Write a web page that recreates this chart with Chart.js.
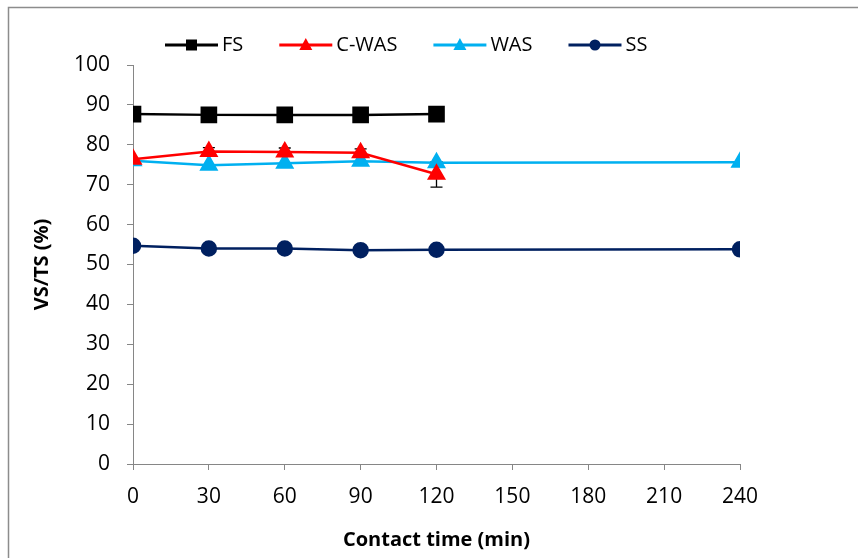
<!DOCTYPE html>
<html>
<head>
<meta charset="utf-8">
<script src="https://cdn.jsdelivr.net/npm/chart.js@4.4.0/dist/chart.umd.min.js"></script>
<style>
  html, body { margin: 0; padding: 0; background: #fff; }
  #wrap { width: 858px; height: 558px; position: relative; }
</style>
</head>
<body>
<div id="wrap"><canvas id="myChart"></canvas></div>
<script>
// Contact time (min) for each series
const timeShort = [0, 30, 60, 90, 120];
const timeLong = [0, 30, 60, 90, 120, 240];

// VS/TS (%)
const fsValues = [87.7, 87.5, 87.5, 87.5, 87.7];
const cwasValues = [76.4, 78.3, 78.2, 78.0, 72.6];
const cwasErrors = [0, 1.0, 1.0, 1.0, 3.2];
const wasValues = [76.0, 74.9, 75.4, 75.9, 75.5, 75.6];
const ssValues = [54.7, 54.0, 54.0, 53.6, 53.7, 53.8];

// Tick labels
const xTicks = [0, 30, 60, 90, 120, 150, 180, 210, 240];
const yTicks = [0, 10, 20, 30, 40, 50, 60, 70, 80, 90, 100];

const FONT = "'Open Sans', sans-serif";
const AXIS_GREY = '#868686';

function toPoints(xs, ys) {
  return ys.map((v, i) => ({ x: xs[i], y: v }));
}

// Draw a small marker for the legend
function drawMarker(ctx, style, x, y, color) {
  ctx.fillStyle = color;
  ctx.beginPath();
  if (style === 'rect') {
    ctx.rect(x - 5.5, y - 5.5, 11, 11);
  } else if (style === 'triangle') {
    ctx.moveTo(x, y - 7);
    ctx.lineTo(x + 6.5, y + 5);
    ctx.lineTo(x - 6.5, y + 5);
    ctx.closePath();
  } else {
    ctx.arc(x, y, 5.5, 0, Math.PI * 2);
  }
  ctx.fill();
}

// White background and the thin frame around the chart
const frame = {
  id: 'frame',
  beforeDraw(chart) {
    const ctx = chart.ctx;
    ctx.save();
    ctx.fillStyle = '#fff';
    ctx.fillRect(0, 0, chart.width, chart.height);
    ctx.strokeStyle = '#8c8c8c';
    ctx.lineWidth = 1.5;
    ctx.strokeRect(8.5, 7.5, chart.width + 20, chart.height + 20);
    ctx.restore();
  }
};

// Error bars on C-WAS, drawn under the markers
const errorBars = {
  id: 'errorBars',
  beforeDatasetsDraw(chart) {
    const ctx = chart.ctx;
    const xs = chart.scales.x;
    const ys = chart.scales.y;
    ctx.save();
    ctx.strokeStyle = '#000';
    ctx.lineWidth = 1.3;
    cwasValues.forEach((v, i) => {
      if (!cwasErrors[i]) return;
      const px = xs.getPixelForValue(timeShort[i]);
      const top = ys.getPixelForValue(v + cwasErrors[i]);
      const bot = ys.getPixelForValue(v - cwasErrors[i]);
      ctx.beginPath();
      ctx.moveTo(px, top); ctx.lineTo(px, bot);
      ctx.moveTo(px - 6, top); ctx.lineTo(px + 6, top);
      ctx.moveTo(px - 6, bot); ctx.lineTo(px + 6, bot);
      ctx.stroke();
    });
    ctx.restore();
  }
};

// Legend with line + marker, like the spreadsheet one
const lineLegend = {
  id: 'lineLegend',
  afterDraw(chart) {
    const ctx = chart.ctx;
    let x = 165;
    const y = 45;
    ctx.save();
    ctx.font = '20px ' + FONT;
    ctx.textBaseline = 'middle';
    chart.data.datasets.forEach(ds => {
      ctx.strokeStyle = ds.borderColor;
      ctx.lineWidth = 3;
      ctx.beginPath();
      ctx.moveTo(x, y);
      ctx.lineTo(x + 53, y);
      ctx.stroke();
      drawMarker(ctx, ds.pointStyle, x + 26.5, y, ds.borderColor);
      ctx.fillStyle = '#000';
      ctx.fillText(ds.label, x + 57, y);
      x = x + 57 + ctx.measureText(ds.label).width + 36;
    });
    ctx.restore();
  }
};

const ctx = document.getElementById('myChart');

const myChart = new Chart(ctx, {
  type: 'line',
  data: {
    datasets: [
      {
        label: 'FS',
        data: toPoints(timeShort, fsValues),
        borderColor: '#000000',
        backgroundColor: '#000000',
        pointStyle: 'rect',
        pointRadius: 10,
        borderWidth: 2.5
      },
      {
        label: 'C-WAS',
        data: toPoints(timeShort, cwasValues),
        borderColor: '#ff0000',
        backgroundColor: '#ff0000',
        pointStyle: 'triangle',
        pointRadius: 8.5,
        borderWidth: 2.5
      },
      {
        label: 'WAS',
        data: toPoints(timeLong, wasValues),
        borderColor: '#00b0f0',
        backgroundColor: '#00b0f0',
        pointStyle: 'triangle',
        pointRadius: 8.5,
        borderWidth: 2.5
      },
      {
        label: 'SS',
        data: toPoints(timeLong, ssValues),
        borderColor: '#002060',
        backgroundColor: '#002060',
        pointStyle: 'circle',
        pointRadius: 7,
        borderWidth: 2.5
      }
    ]
  },
  options: {
    responsive: true,
    maintainAspectRatio: false,
    animation: false,
    layout: { padding: { left: 0, top: 65, right: 118, bottom: 0 } },
    elements: {
      line: { tension: 0 },
      point: { borderWidth: 0, hoverRadius: 7 }
    },
    plugins: {
      legend: { display: false },
      tooltip: { enabled: false }
    },
    scales: {
      x: {
        type: 'linear',
        min: 0,
        max: 240,
        afterBuildTicks: (s) => { s.ticks = xTicks.map(v => ({ value: v })); },
        afterFit: (s) => { s.height = 94; },
        grid: { drawOnChartArea: false, drawTicks: true, tickLength: 6, color: AXIS_GREY },
        border: { color: AXIS_GREY, width: 1 },
        ticks: { color: '#000', padding: 14, maxRotation: 0, font: { family: FONT, size: 21 } },
        title: {
          display: true,
          text: 'Contact time (min)',
          color: '#000',
          padding: { top: 0, bottom: 6 },
          font: { family: FONT, size: 20, weight: 'bold' }
        }
      },
      y: {
        min: 0,
        max: 100,
        afterBuildTicks: (s) => { s.ticks = yTicks.map(v => ({ value: v })); },
        afterFit: (s) => { s.width = 133; },
        grid: { drawOnChartArea: false, drawTicks: true, tickLength: 6, color: AXIS_GREY },
        border: { color: AXIS_GREY, width: 1 },
        ticks: { color: '#000', padding: 17, font: { family: FONT, size: 21 } },
        title: {
          display: true,
          text: 'VS/TS (%)',
          color: '#000',
          padding: { top: 30, bottom: 0 },
          font: { family: FONT, size: 20, weight: 'bold' }
        }
      }
    }
  },
  plugins: [frame, errorBars, lineLegend]
});
</script>
</body>
</html>
